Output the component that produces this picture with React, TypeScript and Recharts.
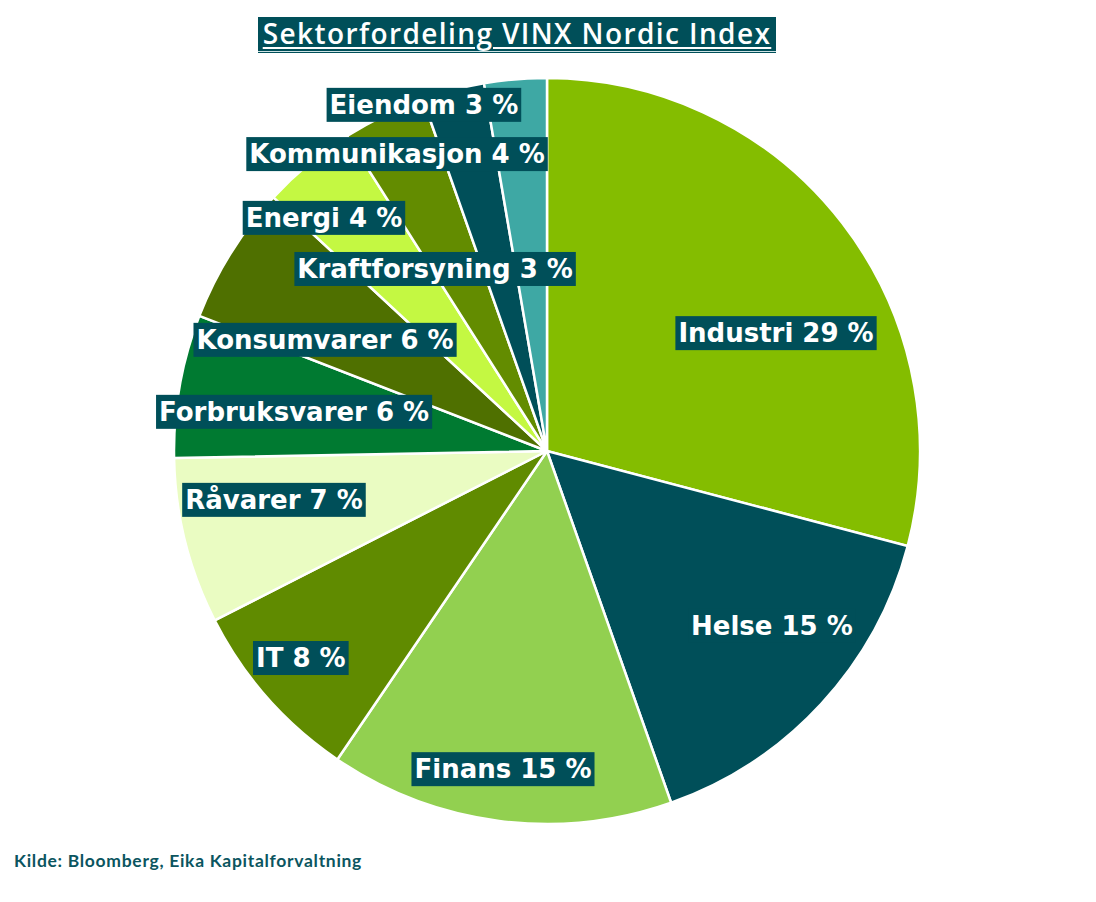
import { PieChart, Pie, Cell } from 'recharts';

const sectors = [
  'Industri',
  'Helse',
  'Finans',
  'IT',
  'Råvarer',
  'Forbruksvarer',
  'Konsumvarer',
  'Energi',
  'Kraftforsyning',
  'Kommunikasjon',
  'Eiendom',
];
const shares = [29.1, 15.5, 14.9, 8.0, 7.2, 6.2, 6.0, 4.1, 3.6, 2.7, 2.7];
const shareLabels = ['29 %', '15 %', '15 %', '8 %', '7 %', '6 %', '6 %', '4 %', '3 %', '4 %', '3 %'];

const colors = [
  '#84bd00',
  '#004f59',
  '#92d050',
  '#608b00',
  '#eafcc2',
  '#007a31',
  '#4f7000',
  '#c4f842',
  '#638c00',
  '#004f59',
  '#3ea8a4',
];

// label centre, as a fraction of the radius from the pie centre
const labelSpots = [
  [0.614, -0.316],
  [0.603, 0.469],
  [-0.118, 0.853],
  [-0.66, 0.555],
  [-0.732, 0.131],
  [-0.678, -0.105],
  [-0.595, -0.298],
  [-0.598, -0.625],
  [-0.3, -0.488],
  [-0.402, -0.796],
  [-0.33, -0.928],
];

const data = sectors.map((name, i) => ({ name, value: shares[i], text: `${name} ${shareLabels[i]}` }));

const LABEL_FONT = 'bold 26px "DejaVu Sans"';
let ctx: CanvasRenderingContext2D | null = null;
const measure = (s: string) => {
  if (!ctx) ctx = document.createElement('canvas').getContext('2d');
  if (!ctx) return s.length * 15;
  ctx.font = LABEL_FONT;
  return ctx.measureText(s).width;
};

const renderLabel = (props: any) => {
  const { cx, cy, outerRadius, index } = props;
  const [fx, fy] = labelSpots[index];
  const x = cx + fx * outerRadius;
  const y = cy + fy * outerRadius;
  const text = data[index].text;
  const w = measure(text) + 6;
  const h = 34;
  return (
    <g key={`lbl-${index}`}>
      <rect x={x - w / 2} y={y - h / 2} width={w} height={h} fill="#004f59" />
      <text
        x={x}
        y={y + 9}
        textAnchor="middle"
        fill="#ffffff"
        style={{ font: LABEL_FONT }}
      >
        {text}
      </text>
    </g>
  );
};

export default function App() {
  return (
    <div style={{ position: 'absolute', left: 0, top: 0, width: 1096, height: 902, background: '#fff' }}>
      <PieChart width={1096} height={902} margin={{ top: 0, right: 0, bottom: 0, left: 0 }}>
        <Pie
          data={data}
          dataKey="value"
          nameKey="name"
          cx={547}
          cy={451}
          outerRadius={373}
          startAngle={90}
          endAngle={-270}
          stroke="#ffffff"
          strokeWidth={2.5}
          label={renderLabel}
          labelLine={false}
          isAnimationActive={false}
        >
          {data.map((d, i) => (
            <Cell key={d.name} fill={colors[i]} />
          ))}
        </Pie>
      </PieChart>
      <div
        style={{
          position: 'absolute',
          left: 258,
          top: 17,
          width: 518,
          height: 36,
          background: '#004f59',
          color: '#fff',
          fontFamily: '"Open Sans", sans-serif',
          fontWeight: 600,
          fontSize: 28,
          letterSpacing: 1.4,
          lineHeight: '33px',
          textAlign: 'center',
          textDecoration: 'underline',
          textDecorationThickness: 2,
          textUnderlineOffset: 3,
          whiteSpace: 'nowrap',
        }}
      >
        Sektorfordeling VINX Nordic Index
      </div>
      <div
        style={{
          position: 'absolute',
          left: 258,
          top: 51,
          width: 518,
          height: 1,
          background: '#cfe3e5',
        }}
      />
      <div
        style={{
          position: 'absolute',
          left: 14,
          top: 850,
          color: '#0b5560',
          fontFamily: 'Lato, sans-serif',
          fontWeight: 700,
          fontSize: 17.5,
          letterSpacing: 0.7,
          whiteSpace: 'nowrap',
        }}
      >
        Kilde: Bloomberg, Eika Kapitalforvaltning
      </div>
    </div>
  );
}
